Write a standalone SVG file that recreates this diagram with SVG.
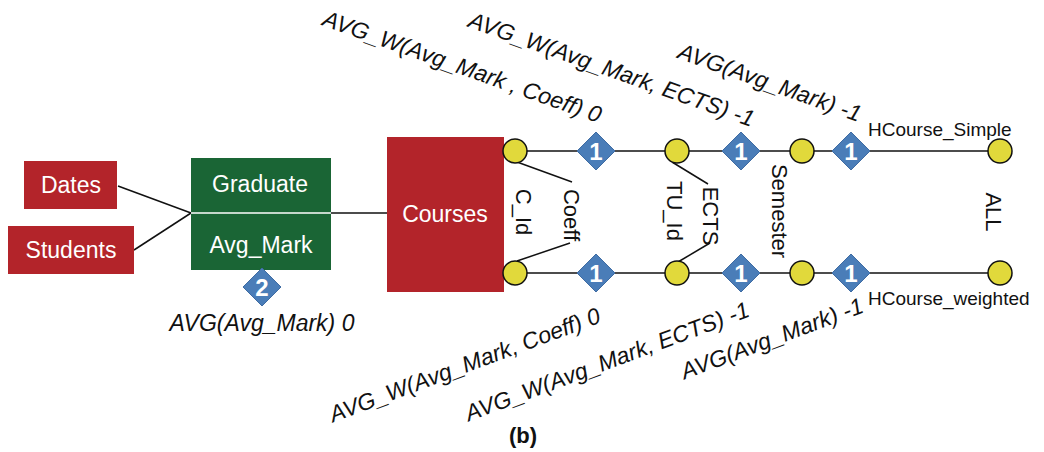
<svg xmlns="http://www.w3.org/2000/svg" width="1044" height="452" viewBox="0 0 1044 452">
<style>
.red{fill:#B3242A}
.green{fill:#1A6535}
.wt{font-family:"Liberation Sans",Arial,sans-serif;font-size:23px;fill:#fff;text-anchor:middle}
.bk{font-family:"Liberation Sans",Arial,sans-serif;font-size:22px;fill:#111}
.it{font-style:italic;font-size:23px}
.sm{font-size:19px}
.ln{stroke:#111;stroke-width:1.5;fill:none}
.lvl{fill:#E1D93B;stroke:#111;stroke-width:1.5}
.dia{fill:#4A7DB8;stroke:#3F6CA3;stroke-width:1}
.num{font-family:"Liberation Sans",Arial,sans-serif;font-weight:bold;font-size:24px;fill:#fff;text-anchor:middle}
</style>
<defs>
<path id="dm" d="M0 -19 L19 0 L0 19 L-19 0 Z"/>
</defs>
<rect width="1044" height="452" fill="#fff"/>
<g id="connectors">
<line class="ln" x1="118" y1="186" x2="191" y2="213"/>
<line class="ln" x1="134" y1="250" x2="191" y2="213"/>
<line class="ln" x1="331" y1="213" x2="387" y2="213"/>
<line class="ln" x1="515" y1="151" x2="1000" y2="151"/>
<line class="ln" x1="515" y1="273" x2="1000" y2="273"/>
<line class="ln" x1="517" y1="162" x2="572" y2="182"/>
<line class="ln" x1="570" y1="243" x2="517" y2="261"/>
<line class="ln" x1="672" y1="162" x2="708" y2="184"/>
<line class="ln" x1="710" y1="243" x2="678" y2="262"/>
</g>
<g id="dates"><rect class="red" x="24" y="161" width="93" height="48"/><text class="wt" x="71" y="193">Dates</text></g>
<g id="students"><rect class="red" x="8" y="226" width="126" height="48"/><text class="wt" x="71" y="258">Students</text></g>
<g id="graduate">
<rect class="green" x="191" y="158" width="140" height="112"/>
<line x1="191" y1="213" x2="331" y2="213" stroke="#fff" stroke-width="1.5"/>
<text class="wt" x="260" y="192">Graduate</text>
<text class="wt" x="261" y="253">Avg_Mark</text>
</g>
<g id="agg2"><use href="#dm" class="dia" x="262" y="287"/><text class="num" x="262" y="296">2</text></g>
<text class="bk it" x="262" y="331" text-anchor="middle">AVG(Avg_Mark) 0</text>
<g id="courses"><rect class="red" x="387" y="137" width="117" height="155"/><text class="wt" x="445" y="222">Courses</text></g>
<g id="levels">
<circle class="lvl" cx="515" cy="151" r="12"/>
<circle class="lvl" cx="677" cy="151" r="12"/>
<circle class="lvl" cx="802" cy="151" r="12"/>
<circle class="lvl" cx="1000" cy="151" r="12"/>
<circle class="lvl" cx="515" cy="273" r="12"/>
<circle class="lvl" cx="677" cy="273" r="12"/>
<circle class="lvl" cx="802" cy="273" r="12"/>
<circle class="lvl" cx="1000" cy="273" r="12"/>
</g>
<g id="aggs">
<use href="#dm" class="dia" x="596" y="151"/><text class="num" x="596" y="160">1</text>
<use href="#dm" class="dia" x="741" y="151"/><text class="num" x="741" y="160">1</text>
<use href="#dm" class="dia" x="851" y="151"/><text class="num" x="851" y="160">1</text>
<use href="#dm" class="dia" x="596" y="273"/><text class="num" x="596" y="282">1</text>
<use href="#dm" class="dia" x="741" y="273"/><text class="num" x="741" y="282">1</text>
<use href="#dm" class="dia" x="851" y="273"/><text class="num" x="851" y="282">1</text>
</g>
<g id="attr-labels">
<text class="bk" transform="translate(516,212) rotate(90)" text-anchor="middle">C_Id</text>
<text class="bk" transform="translate(564,215) rotate(90)" text-anchor="middle">Coeff</text>
<text class="bk" transform="translate(667,211) rotate(90)" text-anchor="middle">TU_Id</text>
<text class="bk" transform="translate(703,216) rotate(90)" text-anchor="middle">ECTS</text>
<text class="bk" transform="translate(772,211) rotate(90)" text-anchor="middle">Semester</text>
<text class="bk" transform="translate(986,212) rotate(90)" text-anchor="middle">ALL</text>
</g>
<text class="bk sm" x="868" y="136">HCourse_Simple</text>
<text class="bk sm" x="868" y="305">HCourse_weighted</text>
<g id="measure-labels">
<text class="bk it" transform="translate(598,123) rotate(19.5)" text-anchor="end">AVG_W(Avg_Mark , Coeff) 0</text>
<text class="bk it" transform="translate(751,127) rotate(19.5)" text-anchor="end">AVG_W(Avg_Mark, ECTS) -1</text>
<text class="bk it" transform="translate(858,122) rotate(19.5)" text-anchor="end">AVG(Avg_Mark) -1</text>
<text class="bk it" transform="translate(602,322) rotate(-20.5)" text-anchor="end">AVG_W(Avg_Mark, Coeff) 0</text>
<text class="bk it" transform="translate(751,316) rotate(-20.5)" text-anchor="end">AVG_W(Avg_Mark, ECTS) -1</text>
<text class="bk it" transform="translate(865,312) rotate(-20.5)" text-anchor="end">AVG(Avg_Mark) -1</text>
</g>
<text class="bk" x="523" y="443" text-anchor="middle" font-weight="bold" font-size="21">(b)</text>
</svg>
